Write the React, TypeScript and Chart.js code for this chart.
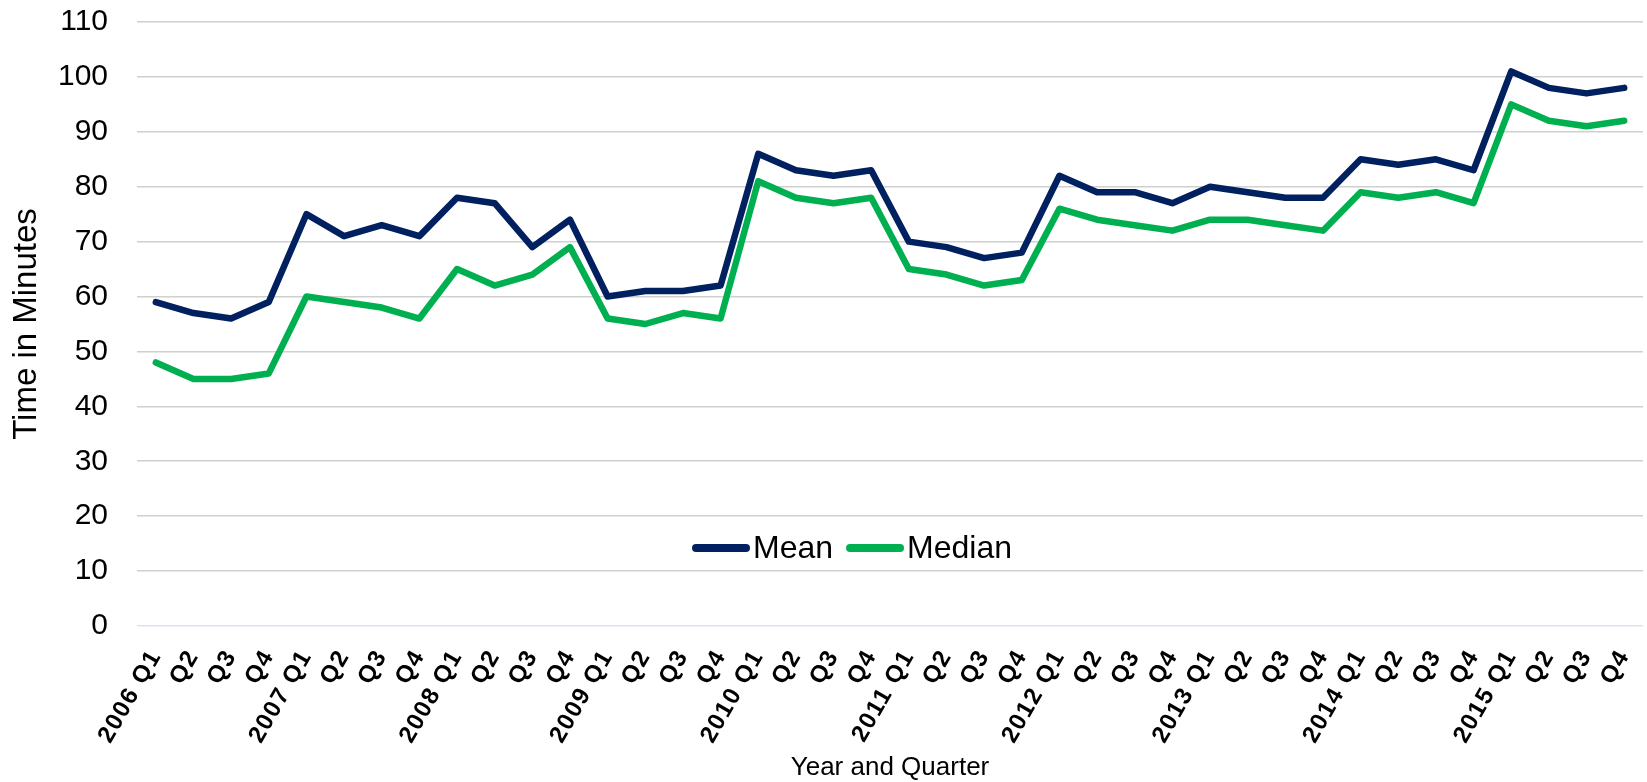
import React, { useEffect, useRef } from "react";
import { Chart, registerables, CategoryScale } from "chart.js";

Chart.register(...registerables);

// Category axis whose rotated tick labels are drawn with a little letter spacing
class SpacedCategoryScale extends (CategoryScale as any) {
  static id = "spacedCategory";
  drawLabels(chartArea: any) {
    const ctx: any = (this as any).ctx;
    const prev = ctx.letterSpacing;
    ctx.letterSpacing = "1.5px";
    super.drawLabels(chartArea);
    ctx.letterSpacing = prev || "0px";
  }
}
Chart.register(SpacedCategoryScale as any);

const years = ["2006", "2007", "2008", "2009", "2010", "2011", "2012", "2013", "2014", "2015"];
const quarters = ["Q1", "Q2", "Q3", "Q4"];
const categories: string[] = [];
years.forEach((y) => quarters.forEach((q, i) => categories.push(i === 0 ? `${y} ${q}` : q)));

const meanValues = [
  59, 57, 56, 59, 75, 71, 73, 71, 78, 77, 69, 74, 60, 61, 61, 62, 86, 83, 82, 83,
  70, 69, 67, 68, 82, 79, 79, 77, 80, 79, 78, 78, 85, 84, 85, 83, 101, 98, 97, 98,
];
const medianValues = [
  48, 45, 45, 46, 60, 59, 58, 56, 65, 62, 64, 69, 56, 55, 57, 56, 81, 78, 77, 78,
  65, 64, 62, 63, 76, 74, 73, 72, 74, 74, 73, 72, 79, 78, 79, 77, 95, 92, 91, 92,
];
const yTicks = [0, 10, 20, 30, 40, 50, 60, 70, 80, 90, 100, 110];

const MEAN_COLOR = "#002060";
const MEDIAN_COLOR = "#00B050";
const FONT = "'Liberation Sans', Arial, sans-serif";

const insideLegend = {
  id: "insideLegend",
  afterDraw(chart: any) {
    const { ctx, chartArea, scales } = chart;
    const y = scales.y.getPixelForValue(14.2);
    ctx.save();
    ctx.font = `32px ${FONT}`;
    ctx.textBaseline = "middle";
    const lineLen = 58;
    const textGap = 3;
    const itemGap = 13;
    const items = chart.data.datasets.map((d: any) => ({
      label: d.label,
      color: d.borderColor,
      w: lineLen + textGap + ctx.measureText(d.label).width,
    }));
    const total = items.reduce((s: number, it: any) => s + it.w, 0) + itemGap * (items.length - 1);
    let x = (chartArea.left + chartArea.right) / 2 - 38 - total / 2;
    items.forEach((it: any) => {
      ctx.strokeStyle = it.color;
      ctx.lineWidth = 8;
      ctx.lineCap = "round";
      ctx.beginPath();
      ctx.moveTo(x + 4, y);
      ctx.lineTo(x + lineLen - 4, y);
      ctx.stroke();
      ctx.fillStyle = "#000";
      ctx.fillText(it.label, x + lineLen + textGap, y + 1);
      x += it.w + itemGap;
    });
    ctx.restore();
  },
};

export default function App() {
  const ref = useRef<HTMLCanvasElement>(null);
  useEffect(() => {
    document.body.style.margin = "0";
    const chart = new Chart(ref.current!, {
      type: "line",
      data: {
        labels: categories,
        datasets: [
          {
            label: "Mean",
            data: meanValues,
            borderColor: MEAN_COLOR,
            backgroundColor: MEAN_COLOR,
            borderWidth: 6.5,
            pointRadius: 0,
            tension: 0,
            borderJoinStyle: "round",
            borderCapStyle: "round",
          },
          {
            label: "Median",
            data: medianValues,
            borderColor: MEDIAN_COLOR,
            backgroundColor: MEDIAN_COLOR,
            borderWidth: 6.5,
            pointRadius: 0,
            tension: 0,
            borderJoinStyle: "round",
            borderCapStyle: "round",
          },
        ],
      },
      options: {
        animation: false,
        responsive: true,
        maintainAspectRatio: false,
        layout: { padding: { top: 22, right: 4, left: 0, bottom: 0 } },
        plugins: {
          legend: { display: false },
          tooltip: { enabled: false },
        },
        scales: {
          x: {
            type: "spacedCategory" as any,
            offset: true,
            grid: { display: false, drawTicks: false },
            border: { display: false },
            afterFit: (axis: any) => {
              axis.paddingLeft = 0;
              axis.paddingRight = 0;
              axis.height = 156;
            },
            ticks: {
              color: "#000",
              font: { family: FONT, size: 24, weight: "bold" },
              minRotation: 60,
              maxRotation: 60,
              autoSkip: false,
              padding: 19,
            },
            title: {
              display: true,
              text: "Year and Quarter",
              color: "#000",
              font: { family: FONT, size: 26 },
              padding: { top: 0, bottom: -1 },
            },
          } as any,
          y: {
            min: 0,
            max: 110,
            afterBuildTicks: (axis: any) => {
              axis.ticks = yTicks.map((v) => ({ value: v }));
            },
            afterFit: (axis: any) => {
              axis.width = 137;
              axis.paddingTop = 0;
              axis.paddingBottom = 0;
            },
            grid: {
              drawTicks: false,
              lineWidth: 1.6,
              color: (c: any) => (c.tick && c.tick.value === 0 ? "#d9e3f6" : "#d0d0d0"),
            },
            border: { display: false },
            ticks: {
              color: "#000",
              font: { family: FONT, size: 30 },
              padding: 29,
            },
            title: {
              display: true,
              text: "Time in Minutes",
              color: "#000",
              font: { family: FONT, size: 33 },
              padding: { top: 7, bottom: 0 },
            },
          },
        },
      },
      plugins: [insideLegend],
    });
    return () => chart.destroy();
  }, []);
  return (
    <div style={{ position: "relative", width: "1647px", height: "782px" }}>
      <canvas ref={ref} />
    </div>
  );
}
